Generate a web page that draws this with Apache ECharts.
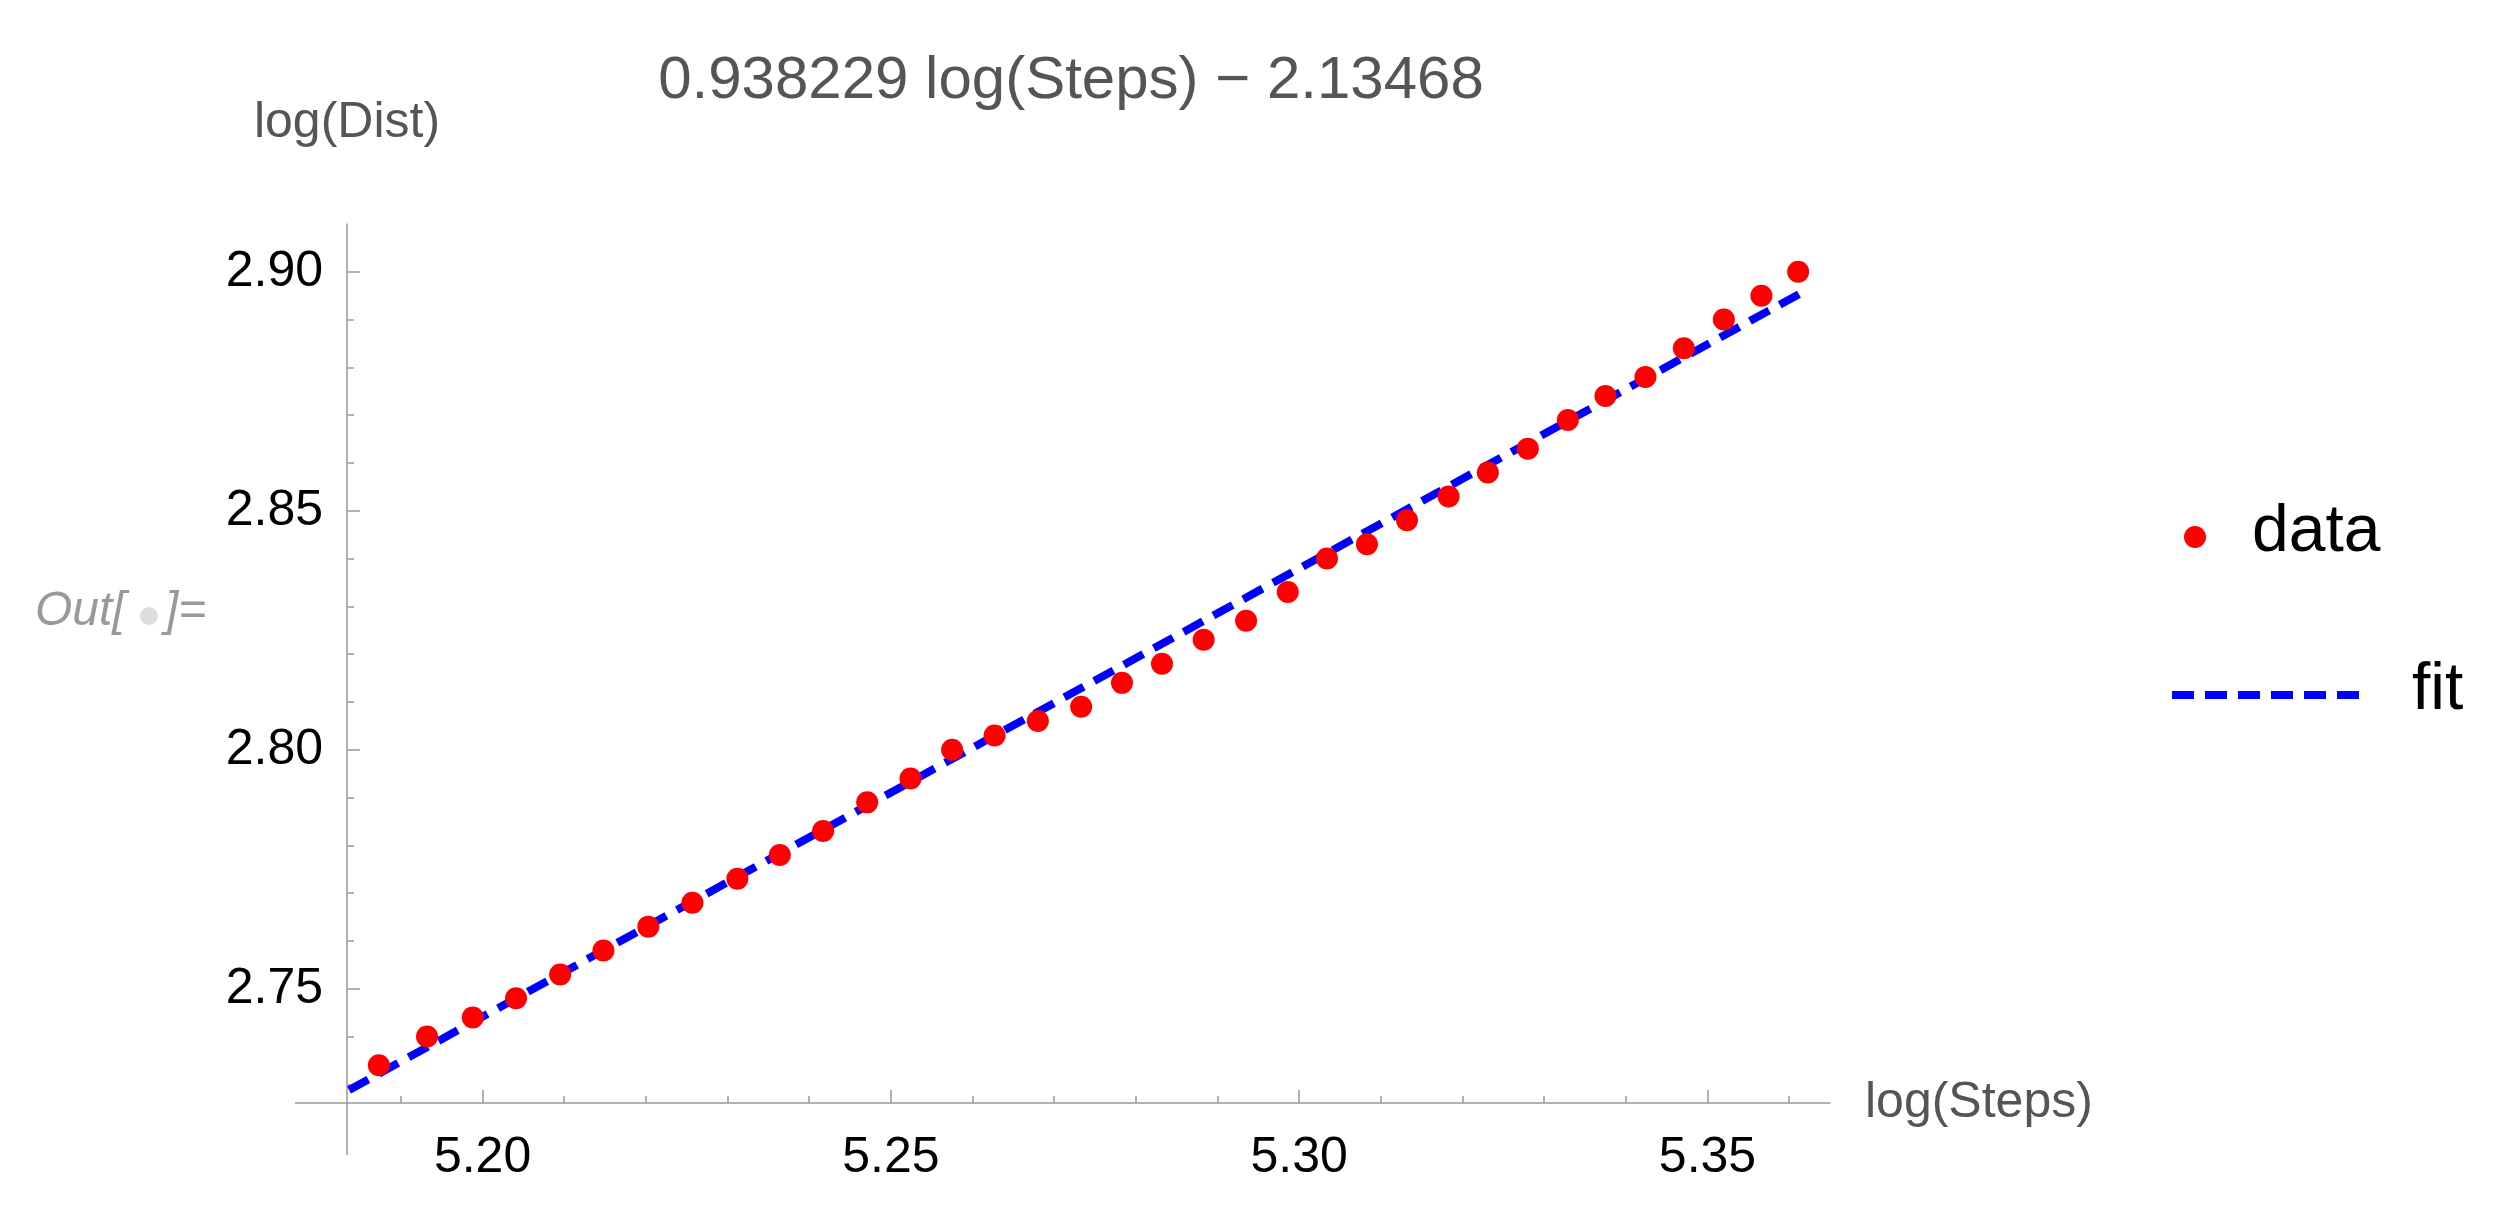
<!DOCTYPE html>
<html><head><meta charset="utf-8">
<script src="https://cdn.jsdelivr.net/npm/echarts@6/dist/echarts.min.js"></script>
<style>html,body{margin:0;padding:0;background:#fff}#c{width:2495px;height:1208px}</style>
</head><body><div id="c"></div>
<script>
const xs = [5.1873,5.1932,5.1988,5.2041,5.2095,5.2148,5.2203,5.2257,5.2312,5.2364,5.2417,5.2471,5.2524,5.2575,5.2627,5.2680,5.2733,5.2783,5.2832,5.2883,5.2935,5.2986,5.3034,5.3083,5.3132,5.3183,5.3231,5.3280,5.3329,5.3375,5.3424,5.3471,5.3520,5.3566,5.3611];
const ys = [2.734,2.740,2.744,2.748,2.753,2.758,2.763,2.768,2.773,2.778,2.783,2.789,2.794,2.800,2.803,2.806,2.809,2.814,2.818,2.823,2.827,2.833,2.840,2.843,2.848,2.853,2.858,2.863,2.869,2.874,2.878,2.884,2.890,2.895,2.900];
const fitX = [5.1800, 5.3615];
const fitY = [2.7254, 2.8956];
const xMajor = [5.20,5.25,5.30,5.35];
const xMinor = [5.19,5.21,5.22,5.23,5.24,5.26,5.27,5.28,5.29,5.31,5.32,5.33,5.34,5.36];
const yMajor = [2.75,2.80,2.85,2.90];
const yMinor = [2.73,2.74,2.76,2.77,2.78,2.79,2.81,2.82,2.83,2.84,2.86,2.87,2.88,2.89];
const titleText = '0.938229 log(Steps) \u2212 2.13468';

const chart = echarts.init(document.getElementById('c'));
const font = 'Liberation Sans, Arial, sans-serif';
const XMIN=5.1834, XMAX=5.365, YMIN=2.7261, YMAX=2.91;
const axisCol = '#999';
function xa(vals,len,labels,extra){
  return Object.assign({type:'value',min:XMIN,max:XMAX,
    axisLine:{show:labels,lineStyle:{color:axisCol,width:1.5}},
    axisTick:{inside:true,length:len,customValues:vals,lineStyle:{color:axisCol,width:1.5}},
    axisLabel:{show:labels,customValues:vals,fontFamily:font,fontSize:50,color:'#000',margin:30,formatter:v=>v.toFixed(2)},
    splitLine:{show:false}},extra||{});
}
function ya(vals,len,labels,extra){
  return Object.assign({type:'value',min:YMIN,max:YMAX,
    axisLine:{show:labels,lineStyle:{color:axisCol,width:1.5}},
    axisTick:{inside:true,length:len,customValues:vals,lineStyle:{color:axisCol,width:1.5}},
    axisLabel:{show:labels,customValues:vals,fontFamily:font,fontSize:50,color:'#000',margin:24,formatter:v=>v.toFixed(2)},
    splitLine:{show:false}},extra||{});
}
chart.setOption({
  animation:false,
  backgroundColor:'#fff',
  title:{text:titleText,left:1066,top:46,textAlign:'center',
    textStyle:{fontFamily:font,fontSize:60,fontWeight:'normal',color:'#555'}},
  grid:{left:347,right:2495-1830,top:224,bottom:1208-1103},
  xAxis:[
    xa(xMajor,13,true,{name:'log(Steps)',nameLocation:'end',nameGap:35,
      nameTextStyle:{fontFamily:font,fontSize:50,color:'#555',verticalAlign:'middle'}}),
    xa(xMinor,7,false,{position:'bottom'})
  ],
  yAxis:[
    ya(yMajor,13,true,{name:'log(Dist)',nameLocation:'end',nameGap:76,
      nameTextStyle:{fontFamily:font,fontSize:50,color:'#555',align:'center'}}),
    ya(yMinor,7,false,{position:'left'})
  ],
  series:[
    {type:'line',data:fitX.map((x,i)=>[x,fitY[i]]),symbol:'none',clip:true,
     lineStyle:{color:'#0000ff',width:8,type:[22,12]},z:2},
    {type:'scatter',data:xs.map((x,i)=>[x,ys[i]]),symbolSize:22,
     itemStyle:{color:'#ff0000',opacity:1},z:3}
  ],
  graphic:[
    {type:'circle',shape:{cx:2195,cy:537,r:11},style:{fill:'#ff0000'}},
    {type:'text',left:2252,top:500,style:{text:'data',fontFamily:font,fontSize:66,fill:'#000'}},
    {type:'line',shape:{x1:2172,y1:695,x2:2360,y2:695},style:{stroke:'#0000ff',lineWidth:8,lineDash:[22,11]}},
    {type:'text',left:2412,top:658,style:{text:'fit',fontFamily:font,fontSize:66,fill:'#000'}},
    {type:'text',left:35,top:588,style:{text:'Out[',fontFamily:font,fontSize:48,fontStyle:'italic',fill:'#999'}},
    {type:'circle',shape:{cx:149,cy:616,r:9},style:{fill:'#ddd'}},
    {type:'text',left:165,top:588,style:{text:']=',fontFamily:font,fontSize:48,fontStyle:'italic',fill:'#999'}},
    {type:'line',shape:{x1:295,y1:1103,x2:347,y2:1103},style:{stroke:axisCol,lineWidth:1.5}},
    {type:'line',shape:{x1:347,y1:1103,x2:347,y2:1155},style:{stroke:axisCol,lineWidth:1.5}}
  ]
});
</script></body></html>
